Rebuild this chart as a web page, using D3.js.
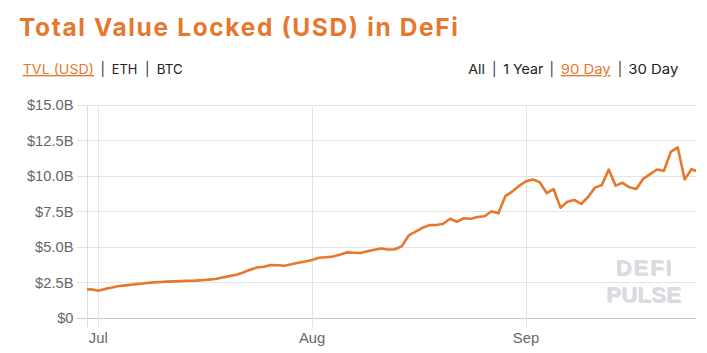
<!DOCTYPE html>
<html><head><meta charset="utf-8">
<script src="https://cdn.jsdelivr.net/npm/d3@7"></script>
<style>
body{margin:0;background:#fff;}
svg{display:block;}
</style></head>
<body>
<svg id="chart" width="707" height="353"></svg>
<script>
const title = "Total Value Locked (USD) in DeFi";
const leftTabs = ["TVL (USD)", "ETH", "BTC"];
const rightTabs = ["All", "1 Year", "90 Day", "30 Day"];
const startDate = "2020-06-29";
const tvl = [2.00,2.03,1.92,2.05,2.15,2.25,2.30,2.36,2.40,2.46,
 2.51,2.53,2.56,2.58,2.60,2.62,2.63,2.66,2.70,2.75,
 2.85,2.95,3.05,3.20,3.40,3.56,3.61,3.73,3.72,3.68,
 3.78,3.89,3.98,4.09,4.24,4.28,4.33,4.46,4.62,4.60,
 4.58,4.70,4.80,4.90,4.82,4.84,5.05,5.82,6.08,6.35,
 6.54,6.55,6.64,6.99,6.78,7.03,6.99,7.11,7.16,7.52,
 7.38,8.58,8.90,9.30,9.63,9.76,9.56,8.80,9.08,7.77,
 8.19,8.31,8.03,8.52,9.18,9.36,10.45,9.32,9.52,9.20,
 9.08,9.80,10.13,10.46,10.37,11.70,12.02,9.76,10.48,10.30];
const yTicks = [0, 2.5, 5, 7.5, 10, 12.5, 15];
const xTickLabels = ["Jul", "Aug", "Sep"];
const xTickDates = ["2020-07-01", "2020-08-01", "2020-09-01"];
const watermark = ["DEFI", "PULSE"];

const orange = "#E8772E";
const svg = d3.select("#chart");
const parse = d3.utcParse("%Y-%m-%d");
const t0 = parse(startDate);
const data = tvl.map((v, i) => ({date: d3.utcDay.offset(t0, i), v}));

const HOUR = 3600e3;
const x = d3.scaleUtc()
  .domain([new Date(+t0 + 8.6 * HOUR), new Date(+d3.utcDay.offset(t0, 88) + 15.6 * HOUR)])
  .range([87, 696]);
const y = d3.scaleLinear().domain([0, 15]).range([318, 105]);

const defs = svg.append("defs");
const f = defs.append("filter").attr("id", "wmshadow")
  .attr("x", "-10%").attr("y", "-20%").attr("width", "130%").attr("height", "150%");
f.append("feDropShadow").attr("dx", 1).attr("dy", 1).attr("stdDeviation", 0.6)
  .attr("flood-color", "#b8b8c0").attr("flood-opacity", 0.5);

// Title
svg.append("text").attr("x", 19).attr("y", 36)
  .attr("font-family", "Inter, 'Open Sans', sans-serif").attr("font-weight", 700)
  .attr("font-size", 24.5).attr("fill", orange)
  .attr("textLength", 439).attr("lengthAdjust", "spacing").text(title);

// Tabs: each item placed with its own position/width
const tabFont = "Inter, 'Open Sans', sans-serif";
function tabs(items, activeIdx, xs, ws, pipes) {
  items.forEach((s, i) => {
    const t = svg.append("text").attr("x", xs[i]).attr("y", 74)
      .attr("font-family", tabFont).attr("font-size", 13.5)
      .attr("fill", i === activeIdx ? orange : "#222")
      .attr("textLength", ws[i]).attr("lengthAdjust", "spacingAndGlyphs").text(s);
    if (i === activeIdx) t.attr("text-decoration", "underline");
  });
  pipes.forEach(px => svg.append("text").attr("x", px).attr("y", 74)
    .attr("text-anchor", "middle").attr("font-family", tabFont)
    .attr("font-size", 13.5).attr("fill", "#333").text("|"));
}
tabs(leftTabs, 0, [22.7, 111.7, 156.7], [71.3, 25.6, 26], [102.7, 147.3]);
tabs(rightTabs, 2, [468.3, 503.3, 560.7, 628.3], [16.7, 40, 50, 50], [494.3, 551.7, 620]);

// Grid
const grid = svg.append("g");
yTicks.forEach(t => {
  grid.append("line").attr("x1", 77).attr("x2", 696)
    .attr("y1", y(t)).attr("y2", y(t))
    .attr("stroke", t === 0 ? "#c8c8c8" : "#e3e3e3").attr("stroke-width", 1)
    .attr("shape-rendering", "crispEdges");
});
grid.append("line").attr("x1", 87).attr("x2", 87).attr("y1", 105).attr("y2", 327)
  .attr("stroke", "#dcdcdc").attr("shape-rendering", "crispEdges");
xTickDates.forEach(d => {
  const xx = Math.round(x(parse(d)));
  grid.append("line").attr("x1", xx).attr("x2", xx).attr("y1", 105).attr("y2", 327)
    .attr("stroke", "#e3e3e3").attr("shape-rendering", "crispEdges");
});

// Y labels
const fmt = t => t === 0 ? "$0" : "$" + t.toFixed(1) + "B";
svg.append("g").selectAll("text").data(yTicks).join("text")
  .attr("x", 73.5).attr("y", d => y(d) + 5.2).attr("text-anchor", "end")
  .attr("font-family", "'Liberation Sans', Arial, sans-serif").attr("font-size", 14.7)
  .attr("fill", "#666").text(fmt);

// X labels
svg.append("g").selectAll("text").data(xTickDates).join("text")
  .attr("x", d => x(parse(d))).attr("y", 343.3).attr("text-anchor", "middle")
  .attr("font-family", "'Liberation Sans', Arial, sans-serif").attr("font-size", 14.8)
  .attr("fill", "#666").text((d, i) => xTickLabels[i]);

// Watermark
const wm = svg.append("g").attr("font-family", "'Liberation Sans', Arial, sans-serif")
  .attr("font-weight", 700).attr("text-anchor", "middle").attr("filter", "url(#wmshadow)")
  .attr("font-size", 22.5).attr("fill", "#dadae0");
[[watermark[0], 275, 56], [watermark[1], 302, 75]].forEach(([s, yy, w]) => {
  wm.append("text").attr("x", 643.5).attr("y", yy)
    .attr("textLength", w).attr("lengthAdjust", "spacing").text(s);
});

// Line
svg.append("clipPath").attr("id", "clip").append("rect")
  .attr("x", 87).attr("y", 95).attr("width", 609).attr("height", 240);
svg.append("path").datum(data)
  .attr("clip-path", "url(#clip)")
  .attr("fill", "none").attr("stroke", orange).attr("stroke-width", 2.6)
  .attr("stroke-linejoin", "round")
  .attr("d", d3.line().x(d => x(d.date)).y(d => y(d.v)));
</script>
</body></html>
